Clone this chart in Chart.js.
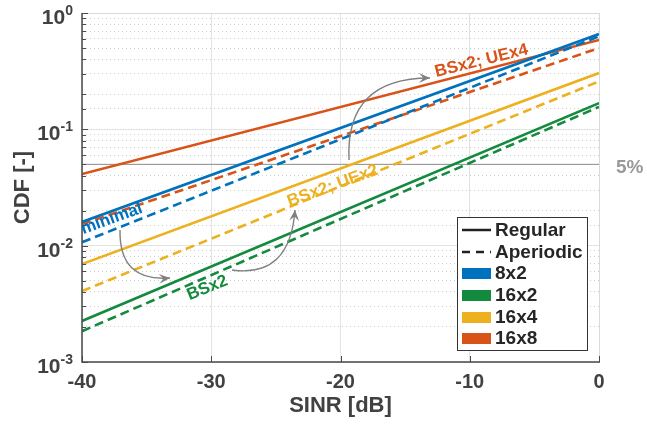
<!DOCTYPE html>
<html lang="en">
<head>
    <meta charset="UTF-8">
    <title>CDF of SINR</title>
    <script src="https://cdn.jsdelivr.net/npm/chart.js"></script>
    <style>
        html, body { margin: 0; padding: 0; background: #fff; }
        .chart-box { width: 647px; height: 428px; position: relative; }
    </style>
</head>
<body>
    <div class="chart-box"><canvas id="cdfChart"></canvas></div>

    <script>
        // Data (CDF at SINR = -40 dB and 0 dB)
        const sinrDb = [-40, 0];
        const arrayNames = ['8x2', '16x2', '16x4', '16x8'];
        const regular8x2 = [0.0160, 0.660];
        const aperiodic8x2 = [0.0107, 0.630];
        const regular16x2 = [0.00225, 0.168];
        const aperiodic16x2 = [0.00184, 0.156];
        const regular16x4 = [0.00695, 0.305];
        const aperiodic16x4 = [0.00407, 0.258];
        const regular16x8 = [0.0413, 0.586];
        const aperiodic16x8 = [0.0153, 0.500];
        const outageLevel = [0.05, 0.05];
        const xTicks = [-40, -30, -20, -10, 0];
        const yDecades = [1, 0.1, 0.01, 0.001];
        const yExponents = ['0', '-1', '-2', '-3'];

        const colors = ['#0072BD', '#138A3D', '#EDB120', '#D95319'];
        const font = "'Liberation Sans', Arial, Helvetica, sans-serif";
        const textColor = '#414141';

        // annotations, in data coordinates
        const notes = [
            { text: 'minimal', color: colors[0], x: -37.7, y: 0.0170, angle: -20 },
            { text: 'BSx2', color: colors[1], x: -30.3, y: 0.00433, angle: -22 },
            { text: 'BSx2; UEx2', color: colors[2], x: -20.6, y: 0.0326, angle: -20 },
            { text: 'BSx2; UEx4', color: colors[3], x: -9.1, y: 0.387, angle: -14 }
        ];
        const arrows = [
            { from: [-37.06, 0.01363], via: [-37.14, 0.00487], to: [-33.19, 0.00527] },
            { from: [-28.39, 0.00618], via: [-23.91, 0.00527], to: [-23.52, 0.02025] },
            { from: [-19.34, 0.0545], via: [-19.65, 0.276], to: [-13.08, 0.276] }
        ];

        const toPoints = vals => sinrDb.map((x, i) => ({ x: x, y: vals[i] }));
        const regular = [regular8x2, regular16x2, regular16x4, regular16x8];
        const aperiodic = [aperiodic8x2, aperiodic16x2, aperiodic16x4, aperiodic16x8];

        const datasets = [];
        arrayNames.forEach((name, i) => {
            datasets.push({ label: name + ' Regular', data: toPoints(regular[i]), borderColor: colors[i], borderWidth: 2.6 });
            datasets.push({ label: name + ' Aperiodic', data: toPoints(aperiodic[i]), borderColor: colors[i], borderWidth: 2.6, borderDash: [9, 5] });
        });
        datasets.push({ label: '5%', data: toPoints(outageLevel), borderColor: '#8c8c8c', borderWidth: 1 });

        const isDecade = v => Math.abs(Math.log10(v) - Math.round(Math.log10(v))) < 1e-9;

        function drawArrow(ctx, s, c, e) {
            ctx.beginPath();
            ctx.moveTo(s[0], s[1]);
            ctx.quadraticCurveTo(c[0], c[1], e[0], e[1]);
            ctx.stroke();
            const ang = Math.atan2(e[1] - c[1], e[0] - c[0]);
            const len = 11, half = 5;
            ctx.save();
            ctx.translate(e[0], e[1]);
            ctx.rotate(ang);
            ctx.beginPath();
            ctx.moveTo(0, 0);
            ctx.lineTo(-len, -half);
            ctx.lineTo(-len * 0.6, 0);
            ctx.lineTo(-len, half);
            ctx.closePath();
            ctx.fill();
            ctx.restore();
        }

        const decorations = {
            id: 'decorations',
            afterDatasetsDraw(chart) {
                const { ctx, chartArea: ca, scales: { x, y } } = chart;
                const px = v => x.getPixelForValue(v);
                const py = v => y.getPixelForValue(v);
                ctx.save();

                // box: light top/right, dark left/bottom
                ctx.strokeStyle = '#d9d9d9';
                ctx.lineWidth = 1;
                ctx.beginPath();
                ctx.moveTo(ca.left, ca.top + 0.5);
                ctx.lineTo(ca.right + 0.5, ca.top + 0.5);
                ctx.lineTo(ca.right + 0.5, ca.bottom);
                ctx.stroke();

                // inward ticks
                ctx.strokeStyle = '#4a4a4a';
                y.ticks.forEach(t => {
                    const yy = Math.round(py(t.value)) + 0.5;
                    const l = isDecade(t.value) ? 6 : 4;
                    ctx.beginPath(); ctx.moveTo(ca.left, yy); ctx.lineTo(ca.left + l, yy); ctx.stroke();
                });
                xTicks.forEach(v => {
                    const xx = Math.round(px(v)) + 0.5;
                    ctx.beginPath(); ctx.moveTo(xx, ca.bottom); ctx.lineTo(xx, ca.bottom - 6); ctx.stroke();
                });
                ctx.lineWidth = 1.5;
                ctx.beginPath();
                ctx.moveTo(ca.left, ca.top);
                ctx.lineTo(ca.left, ca.bottom);
                ctx.lineTo(ca.right + 1, ca.bottom);
                ctx.stroke();

                // y tick labels 10^n
                ctx.fillStyle = textColor;
                yDecades.forEach((v, i) => {
                    const yy = py(v);
                    ctx.font = 'bold 14px ' + font;
                    ctx.textAlign = 'right';
                    ctx.textBaseline = 'alphabetic';
                    const expW = ctx.measureText(yExponents[i]).width;
                    ctx.fillText(yExponents[i], 73, yy + 2);
                    ctx.font = 'bold 21px ' + font;
                    ctx.fillText('10', 73 - expW, yy + 11);
                });

                // 5% label
                ctx.fillStyle = '#999999';
                ctx.font = 'bold 19px ' + font;
                ctx.textAlign = 'left';
                ctx.textBaseline = 'middle';
                ctx.fillText('5%', ca.right + 17, py(0.05) + 3);

                // arrows
                ctx.strokeStyle = '#808080';
                ctx.fillStyle = '#808080';
                ctx.lineWidth = 1.4;
                arrows.forEach(a => {
                    drawArrow(ctx,
                        [px(a.from[0]), py(a.from[1])],
                        [px(a.via[0]), py(a.via[1])],
                        [px(a.to[0]), py(a.to[1])]);
                });

                // rotated labels
                ctx.font = 'bold 17px ' + font;
                ctx.textAlign = 'center';
                ctx.textBaseline = 'middle';
                notes.forEach(n => {
                    ctx.save();
                    ctx.translate(px(n.x), py(n.y));
                    ctx.rotate(n.angle * Math.PI / 180);
                    ctx.fillStyle = n.color;
                    ctx.fillText(n.text, 0, 0);
                    ctx.restore();
                });

                // legend
                const lw = 130, lh = 133;
                const lx = ca.right - 12 - lw, ly = ca.bottom - 12 - lh;
                ctx.fillStyle = '#ffffff';
                ctx.fillRect(lx, ly, lw, lh);
                ctx.strokeStyle = '#333333';
                ctx.lineWidth = 1;
                ctx.strokeRect(lx + 0.5, ly + 0.5, lw, lh);
                const rows = [13, 35, 56, 78, 100, 121];
                const items = ['Regular', 'Aperiodic'].concat(arrayNames);
                ctx.font = 'bold 19px ' + font;
                ctx.textAlign = 'left';
                ctx.textBaseline = 'middle';
                items.forEach((label, i) => {
                    const yy = ly + rows[i];
                    if (i < 2) {
                        ctx.strokeStyle = '#222222';
                        ctx.lineWidth = 2.5;
                        ctx.setLineDash(i === 1 ? [8, 6] : []);
                        ctx.beginPath(); ctx.moveTo(lx + 5, yy); ctx.lineTo(lx + 34, yy); ctx.stroke();
                        ctx.setLineDash([]);
                    } else {
                        ctx.fillStyle = colors[i - 2];
                        ctx.fillRect(lx + 5, yy - 5, 29, 11);
                    }
                    ctx.fillStyle = '#262626';
                    ctx.fillText(label, lx + 38, yy + 1);
                });
                ctx.restore();
            }
        };

        new Chart(document.getElementById('cdfChart'), {
            type: 'line',
            data: { datasets: datasets },
            options: {
                responsive: true,
                maintainAspectRatio: false,
                animation: false,
                layout: { padding: { top: 13, right: 48, left: 0, bottom: 0 } },
                plugins: { legend: { display: false }, tooltip: { enabled: false } },
                elements: { point: { radius: 0 }, line: { tension: 0 } },
                scales: {
                    x: {
                        type: 'linear', min: -40, max: 0,
                        afterBuildTicks: s => { s.ticks = xTicks.map(v => ({ value: v })); },
                        ticks: { color: textColor, font: { family: font, size: 20, weight: 'bold' }, padding: 8 },
                        grid: { color: '#e3e3e3', drawTicks: false },
                        border: { display: false },
                        title: { display: true, text: 'SINR [dB]', color: textColor, font: { family: font, size: 22, weight: 'bold' }, padding: { top: 0, bottom: 9 } },
                        afterFit: s => { s.height = 66; }
                    },
                    y: {
                        type: 'logarithmic', min: 0.001, max: 1,
                        ticks: { display: false, autoSkip: false },
                        grid: { color: c => (c.tick && isDecade(c.tick.value)) ? '#e3e3e3' : '#cfcfcf', drawTicks: false },
                        border: { display: false, dash: c => (c.tick && !isDecade(c.tick.value)) ? [1, 3] : [] },
                        title: { display: true, text: 'CDF [-]', color: textColor, font: { family: font, size: 22, weight: 'bold' }, padding: { top: 10, bottom: 0 } },
                        afterFit: s => { s.width = 82; }
                    }
                }
            },
            plugins: [decorations]
        });
    </script>
</body>
</html>
